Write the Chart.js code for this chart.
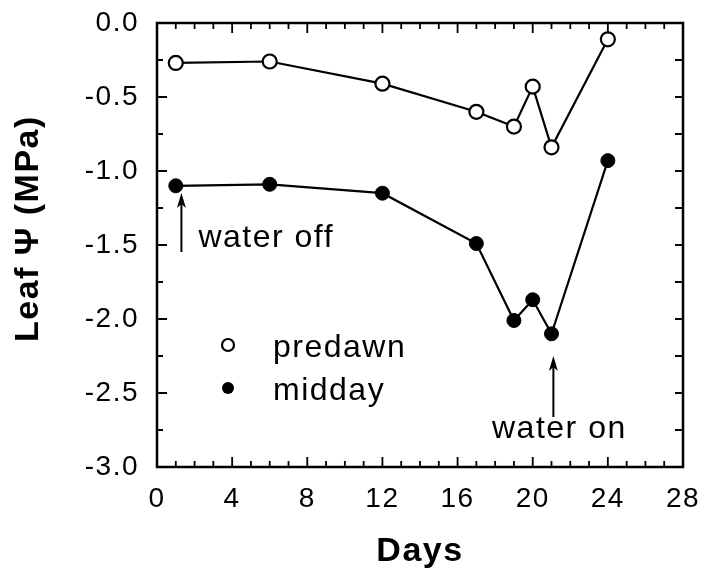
<!DOCTYPE html>
<html>
<head>
<meta charset="utf-8">
<script src="https://cdn.jsdelivr.net/npm/chart.js@4.4.1/dist/chart.umd.min.js"></script>
<style>
  html, body { margin: 0; padding: 0; background: #fff; }
  #wrap { width: 707px; height: 569px; }
</style>
</head>
<body>
<div id="wrap"><canvas id="leaf_canvas" width="707" height="569"></canvas></div>
<script>
var days = [1, 6, 12, 17, 19, 20, 21, 24];
var predawn = [-0.27, -0.26, -0.41, -0.60, -0.70, -0.43, -0.84, -0.11];
var midday = [-1.10, -1.09, -1.15, -1.49, -2.01, -1.87, -2.10, -0.93];
var xTicks = [0, 4, 8, 12, 16, 20, 24, 28];
var yTicks = [0.0, -0.5, -1.0, -1.5, -2.0, -2.5, -3.0];
var legendLabels = ['predawn', 'midday'];
var notes = [{ text: 'water off', day: 1.3 }, { text: 'water on', day: 21.1 }];

var FONT = "'Liberation Sans', Arial, sans-serif";

function points(ys) {
    return days.map(function (d, i) { return { x: d, y: ys[i] }; });
}

// frame, inward tick marks, legend and arrows
var decor = {
    id: 'decor',
    beforeDraw: function (chart) {
        chart.ctx.letterSpacing = '1.5px';
    },
    afterDatasetsDraw: function (chart) {
        var ctx = chart.ctx;
        var a = chart.chartArea;
        var xs = chart.scales.x, ys = chart.scales.y;
        ctx.save();
        ctx.strokeStyle = '#000';
        ctx.lineWidth = 2.5;
        ctx.strokeRect(a.left, a.top, a.right - a.left, a.bottom - a.top);

        ctx.lineWidth = 1.8;
        ctx.beginPath();
        for (var d = 1; d < 28; d++) {
            var px = xs.getPixelForValue(d);
            var len = d % 4 === 0 ? 10 : 6;
            ctx.moveTo(px, a.bottom); ctx.lineTo(px, a.bottom - len);
            ctx.moveTo(px, a.top); ctx.lineTo(px, a.top + len);
        }
        for (var k = 1; k < 12; k++) {
            var v = -k * 0.25;
            var py = ys.getPixelForValue(v);
            var l2 = k % 2 === 0 ? 10 : 6;
            ctx.moveTo(a.left, py); ctx.lineTo(a.left + l2, py);
            ctx.moveTo(a.right, py); ctx.lineTo(a.right - 8, py);
        }
        ctx.stroke();

        // legend
        ctx.font = '32px ' + FONT;
        ctx.fillStyle = '#000';
        ctx.textBaseline = 'alphabetic';
        ctx.textAlign = 'left';
        var lx = a.left + 71;
        var rows = [a.top + 322, a.top + 365];
        legendLabels.forEach(function (lab, i) {
            ctx.beginPath();
            ctx.arc(lx, rows[i], 6, 0, Math.PI * 2);
            ctx.lineWidth = 2.2;
            if (i === 0) { ctx.fillStyle = '#fff'; ctx.fill(); ctx.stroke(); }
            else { ctx.fillStyle = '#000'; ctx.fill(); }
            ctx.fillStyle = '#000';
            ctx.fillText(lab, lx + 45, rows[i] + 12);
        });

        // arrows
        function arrow(x, y0, y1) {
            ctx.lineWidth = 2;
            ctx.beginPath();
            ctx.moveTo(x, y1); ctx.lineTo(x, y0 + 6);
            ctx.stroke();
            ctx.beginPath();
            ctx.moveTo(x, y0);
            ctx.lineTo(x - 4.5, y0 + 15);
            ctx.lineTo(x, y0 + 11);
            ctx.lineTo(x + 4.5, y0 + 15);
            ctx.closePath();
            ctx.fill();
        }
        var x1 = xs.getPixelForValue(notes[0].day);
        arrow(x1, 193, 252);
        ctx.textAlign = 'left';
        ctx.fillText(notes[0].text, x1 + 17, 247);

        var x2 = xs.getPixelForValue(notes[1].day);
        arrow(x2, 356, 417);
        ctx.textAlign = 'center';
        ctx.fillText(notes[1].text, x2 + 6, 438);
        ctx.restore();
    }
};

var canvas = document.getElementById('leaf_canvas');

var chart = new Chart(canvas, {
    type: 'scatter',
    data: {
        datasets: [{
            label: 'midday',
            data: points(midday),
            showLine: true,
            borderColor: '#000',
            borderWidth: 2.2,
            backgroundColor: '#000',
            pointBackgroundColor: '#000',
            pointBorderColor: '#000',
            pointRadius: 7,
            pointBorderWidth: 1
        }, {
            label: 'predawn',
            data: points(predawn),
            showLine: true,
            borderColor: '#000',
            borderWidth: 2.2,
            backgroundColor: '#fff',
            pointBackgroundColor: '#fff',
            pointBorderColor: '#000',
            pointRadius: 7,
            pointBorderWidth: 2.2
        }]
    },
    options: {
        responsive: false,
        animation: false,
        layout: { padding: { top: 23, right: 24, left: 0, bottom: 0 } },
        scales: {
            x: {
                type: 'linear',
                min: 0,
                max: 28,
                afterFit: function (s) {
                    s.height = 102;
                    s.paddingLeft = 0;
                    s.paddingRight = 0;
                },
                afterBuildTicks: function (s) { s.ticks = xTicks.map(function (v) { return { value: v }; }); },
                grid: { display: false, drawTicks: false },
                border: { display: false },
                ticks: {
                    color: '#000',
                    padding: 15,
                    font: { family: FONT, size: 28 },
                    callback: function (v) { return String(v); }
                },
                title: {
                    display: true,
                    text: 'Days',
                    color: '#000',
                    font: { family: FONT, size: 34, weight: 'bold' },
                    padding: { top: 0, bottom: -3 }
                }
            },
            y: {
                type: 'linear',
                min: -3,
                max: 0,
                afterFit: function (s) {
                    s.width = 157;
                    s.paddingTop = 0;
                    s.paddingBottom = 0;
                },
                afterBuildTicks: function (s) { s.ticks = yTicks.map(function (v) { return { value: v }; }); },
                grid: { display: false, drawTicks: false },
                border: { display: false },
                ticks: {
                    color: '#000',
                    padding: 18,
                    font: { family: FONT, size: 28 },
                    callback: function (v) { return v.toFixed(1); }
                },
                title: {
                    display: true,
                    text: '   Leaf \u03A8 (MPa)',
                    color: '#000',
                    font: { family: FONT, size: 34, weight: 'bold' },
                    padding: { top: 8, bottom: 0 }
                }
            }
        },
        plugins: {
            legend: { display: false },
            tooltip: { enabled: false }
        }
    },
    plugins: [decor]
});
</script>
</body>
</html>
